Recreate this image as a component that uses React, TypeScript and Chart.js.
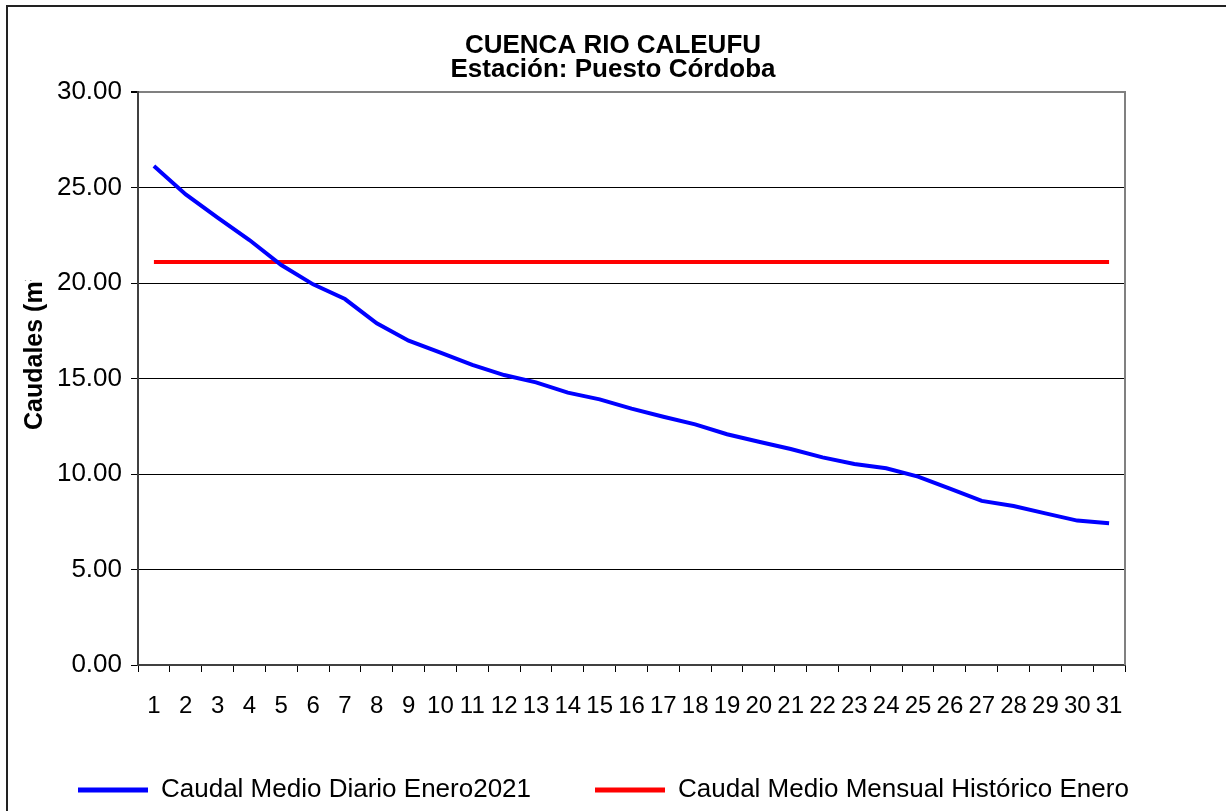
import React, { useEffect, useRef } from 'react';
import { Chart, registerables } from 'chart.js';

Chart.register(...registerables);

const titleLines = ['CUENCA RIO CALEUFU', 'Estación: Puesto Córdoba'];
const yAxisTitle = 'Caudales (m³/s)';

const days = ['1', '2', '3', '4', '5', '6', '7', '8', '9', '10', '11', '12', '13', '14', '15', '16',
  '17', '18', '19', '20', '21', '22', '23', '24', '25', '26', '27', '28', '29', '30', '31'];

const dailyLabel = 'Caudal Medio Diario Enero2021';
const dailyFlow = [26.13, 24.64, 23.42, 22.25, 20.94, 19.93, 19.16, 17.89, 16.98, 16.35, 15.71,
  15.18, 14.80, 14.26, 13.91, 13.42, 13.00, 12.60, 12.08, 11.69, 11.31, 10.87, 10.52, 10.30,
  9.86, 9.23, 8.59, 8.32, 7.94, 7.56, 7.42];

const historicLabel = 'Caudal Medio Mensual Histórico Enero';
const historicFlow = [21.1, 21.1, 21.1, 21.1, 21.1, 21.1, 21.1, 21.1, 21.1, 21.1, 21.1,
  21.1, 21.1, 21.1, 21.1, 21.1, 21.1, 21.1, 21.1, 21.1, 21.1, 21.1, 21.1, 21.1,
  21.1, 21.1, 21.1, 21.1, 21.1, 21.1, 21.1];

const yMin = 0;
const yMax = 30;
const yStep = 5;

const FONT = "'Liberation Sans', Arial, sans-serif";

const decorPlugin = {
  id: 'decor',
  afterDraw(chart: any) {
    const { ctx, chartArea, width } = chart;
    ctx.save();
    // outer frame (left & top visible)
    ctx.fillStyle = '#222';
    ctx.fillRect(6, 5, width, 2);
    ctx.fillRect(6, 5, 2, chart.height);
    // plot area right border
    ctx.fillStyle = '#808080';
    ctx.fillRect(chartArea.right - 1, chartArea.top - 1, 2, chartArea.bottom - chartArea.top + 1);
    // titles
    ctx.fillStyle = '#000';
    ctx.textAlign = 'center';
    ctx.textBaseline = 'middle';
    ctx.font = `bold 26px ${FONT}`;
    ctx.fillText(titleLines[0], width / 2, 46);
    ctx.fillText(titleLines[1], width / 2, 70);
    // y axis title (clipped like the original)
    ctx.save();
    ctx.beginPath();
    ctx.rect(0, 280, 130, 300);
    ctx.clip();
    ctx.translate(42, 430);
    ctx.rotate(-Math.PI / 2);
    ctx.textAlign = 'left';
    ctx.textBaseline = 'alphabetic';
    ctx.font = `bold 25px ${FONT}`;
    ctx.fillText(yAxisTitle, 0, 0);
    ctx.restore();
    ctx.restore();
  },
};

export default function App() {
  const ref = useRef<HTMLCanvasElement | null>(null);

  useEffect(() => {
    if (!ref.current) return;
    const chart = new Chart(ref.current, {
      type: 'line',
      data: {
        labels: days,
        datasets: [
          {
            label: dailyLabel,
            data: dailyFlow,
            borderColor: '#0000FF',
            backgroundColor: '#0000FF',
            borderWidth: 4,
            pointRadius: 0,
            tension: 0,
          },
          {
            label: historicLabel,
            data: historicFlow,
            borderColor: '#FF0000',
            backgroundColor: '#FF0000',
            borderWidth: 4,
            pointRadius: 0,
            tension: 0,
          },
        ],
      },
      options: {
        animation: false,
        responsive: true,
        maintainAspectRatio: false,
        layout: { padding: { left: 14, right: 0, top: 92, bottom: 0 } },
        plugins: {
          title: { display: false },
          tooltip: { enabled: false },
          legend: {
            position: 'bottom',
            align: 'start',
            maxHeight: 98,
            labels: {
              color: '#000',
              font: { family: FONT, size: 26 },
              boxWidth: 70,
              boxHeight: 5,
              padding: 64,
              generateLabels(c: any) {
                const items = Chart.defaults.plugins.legend.labels.generateLabels(c);
                items.forEach((it: any) => { it.lineWidth = 0; });
                return items;
              },
            },
          },
        },
        scales: {
          x: {
            type: 'category',
            offset: true,
            afterFit(scale: any) { scale.height = 48; },
            grid: {
              offset: true,
              drawOnChartArea: false,
              drawTicks: true,
              tickLength: 7,
              color: '#000',
            },
            border: { color: '#404040', width: 2 },
            ticks: {
              autoSkip: false,
              maxRotation: 0,
              minRotation: 0,
              padding: 20,
              color: '#000',
              font: { family: FONT, size: 24 },
            },
          },
          y: {
            min: yMin,
            max: yMax,
            afterFit(scale: any) { scale.width = 124; },
            grid: {
              color: (c: any) => (c.tick && c.tick.value === yMax ? '#808080' : '#000'),
              lineWidth: (c: any) => (c.tick && c.tick.value === yMax ? 2 : 1),
              tickLength: 7,
              tickColor: '#000',
            },
            border: { color: '#404040', width: 2 },
            ticks: {
              stepSize: yStep,
              padding: 9,
              color: '#000',
              font: { family: FONT, size: 26 },
              callback: (v: any) => Number(v).toFixed(2),
            },
          },
          spacer: {
            type: 'linear',
            position: 'right',
            display: true,
            afterFit(scale: any) { scale.width = 101; },
            grid: { display: false, drawOnChartArea: false, drawTicks: false },
            border: { display: false },
            ticks: { display: false },
          },
        },
      },
      plugins: [decorPlugin],
    });
    return () => chart.destroy();
  }, []);

  return (
    <div style={{ position: 'fixed', left: 0, top: 0, width: 1226, height: 811, background: '#fff' }}>
      <canvas ref={ref} />
    </div>
  );
}
